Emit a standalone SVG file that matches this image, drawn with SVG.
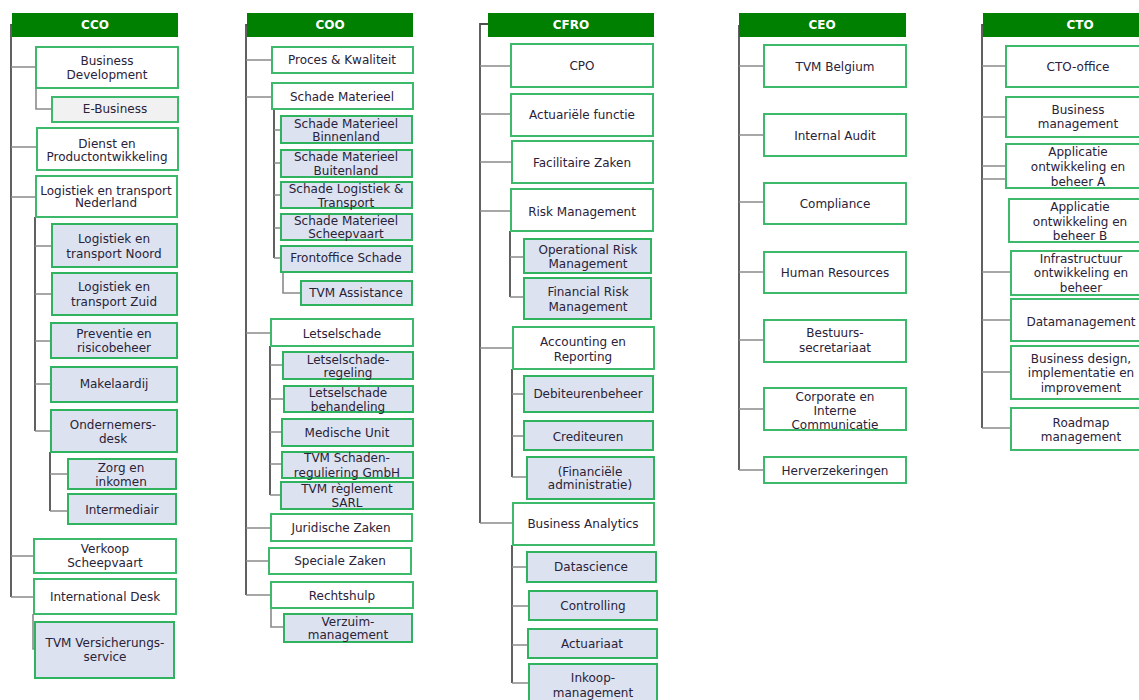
<svg xmlns="http://www.w3.org/2000/svg" width="1139" height="700" viewBox="0 0 1139 700">
<style>
.bg{fill:#ffffff}
.hd{fill:#008000}
.ht{fill:#ffffff;font-family:"DejaVu Sans",Verdana,sans-serif;font-size:12px;font-weight:bold;text-anchor:middle}
.w{fill:#ffffff;stroke:#3cb96a;stroke-width:2}
.u{fill:#dce2f0;stroke:#2fb35e;stroke-width:2}
.g{fill:#f1f1f1;stroke:#3cb96a;stroke-width:2}
.t{fill:#2a2238;font-family:"DejaVu Sans",Verdana,sans-serif;font-size:12px;text-anchor:middle}
.v{fill:none;stroke:#505050;stroke-width:1.8}
.h{fill:none;stroke:#8a8a8a;stroke-width:1.6}
</style>
<rect class="bg" x="0" y="0" width="1139" height="700"/>

<g id="connectors">
<!-- CCO -->
<path class="v" d="M12,25 H11 V597"/>
<path class="h" d="M11,67 H36 M11,147 H37 M11,197 H36 M11,556 H34 M11,597 H34"/>
<path class="h" d="M36,88 V109 H52"/>
<path class="v" d="M35,217 V431"/>
<path class="h" d="M35,246 H52 M35,294 H52 M35,341 H51 M35,384 H51 M35,431 H51"/>
<path class="v" d="M50,452 V511"/>
<path class="h" d="M50,474 H68 M50,511 H68"/>
<path class="h" d="M33,614 V649 H35"/>
<!-- COO -->
<path class="v" d="M247,25 H246 V595"/>
<path class="h" d="M246,60 H272 M246,97 H272 M246,333 H271 M246,528 H271 M246,561 H269 M246,595 H271"/>
<path class="v" d="M274,109 V258"/>
<path class="h" d="M274,130 H281 M274,163 H281 M274,195 H281 M274,228 H281 M274,258 H281"/>
<path class="h" d="M283,272 V293 H301"/>
<path class="v" d="M270,346 V495"/>
<path class="h" d="M270,365 H283 M270,399 H284 M270,432 H282 M270,464 H282 M270,495 H281"/>
<path class="h" d="M271,608 V627 H284"/>
<!-- CFRO -->
<path class="v" d="M488,24 H480 V523"/>
<path class="h" d="M480,66 H511 M480,114 H511 M480,162 H512 M480,211 H511 M480,348 H513 M480,523 H513"/>
<path class="v" d="M510,231 V297"/>
<path class="h" d="M510,257 H524 M510,297 H524"/>
<path class="v" d="M512,369 V477"/>
<path class="h" d="M512,394 H524 M512,436 H524 M512,477 H527"/>
<path class="v" d="M512,545 V683"/>
<path class="h" d="M512,567 H527 M512,606 H529 M512,645 H528 M512,683 H529"/>
<!-- CEO -->
<path class="v" d="M739,25 V470"/>
<path class="h" d="M739,66 H764 M739,135 H764 M739,202 H764 M739,272 H764 M739,340 H764 M739,409 H764 M739,470 H764"/>
<!-- CTO -->
<path class="v" d="M983,25 H982 V428"/>
<path class="h" d="M982,66 H1006 M982,117 H1006 M982,166 H1006 M982,179 H1006 M982,272 H1011 M982,320 H1011 M982,372 H1011 M982,428 H1011"/>
</g>

<!-- CCO column -->
<g id="cco"><rect class="hd" x="12" y="13" width="166" height="24"/><text class="ht" x="95" y="29">CCO</text></g>
<g id="business-development"><rect class="w" x="36" y="47" width="142" height="41"/><text class="t"><tspan x="107" y="65">Business</tspan><tspan x="107" y="79">Development</tspan></text></g>
<g id="e-business"><rect class="g" x="52" y="97" width="126" height="25"/><text class="t" x="115" y="113">E-Business</text></g>
<g id="dienst"><rect class="w" x="37" y="128" width="141" height="42"/><text class="t"><tspan x="107" y="148">Dienst en</tspan><tspan x="107" y="161">Productontwikkeling</tspan></text></g>
<g id="log-ned"><rect class="w" x="36" y="176" width="141" height="41"/><text class="t"><tspan x="106" y="195">Logistiek en transport</tspan><tspan x="106" y="207">Nederland</tspan></text></g>
<g id="log-noord"><rect class="u" x="52" y="224" width="125" height="43"/><text class="t"><tspan x="114" y="243">Logistiek en</tspan><tspan x="114" y="258">transport Noord</tspan></text></g>
<g id="log-zuid"><rect class="u" x="52" y="273" width="125" height="42"/><text class="t"><tspan x="114" y="291">Logistiek en</tspan><tspan x="114" y="306">transport Zuid</tspan></text></g>
<g id="preventie"><rect class="u" x="51" y="323" width="126" height="35"/><text class="t"><tspan x="114" y="338">Preventie en</tspan><tspan x="114" y="352">risicobeheer</tspan></text></g>
<g id="makelaardij"><rect class="u" x="51" y="367" width="126" height="35"/><text class="t" x="114" y="388">Makelaardij</text></g>
<g id="ondernemersdesk"><rect class="u" x="51" y="410" width="126" height="42"/><text class="t"><tspan x="113" y="429">Ondernemers-</tspan><tspan x="113" y="443">desk</tspan></text></g>
<g id="zorg"><rect class="u" x="68" y="459" width="108" height="30"/><text class="t"><tspan x="121" y="472">Zorg en</tspan><tspan x="121" y="486">inkomen</tspan></text></g>
<g id="intermediair"><rect class="u" x="68" y="494" width="108" height="30"/><text class="t" x="122" y="514">Intermediair</text></g>
<g id="verkoop"><rect class="w" x="34" y="539" width="142" height="34"/><text class="t"><tspan x="105" y="553">Verkoop</tspan><tspan x="105" y="567">Scheepvaart</tspan></text></g>
<g id="international-desk"><rect class="w" x="34" y="579" width="142" height="35"/><text class="t" x="105" y="601">International Desk</text></g>
<g id="tvm-vs"><rect class="u" x="35" y="622" width="139" height="56"/><text class="t"><tspan x="105" y="647">TVM Versicherungs-</tspan><tspan x="105" y="661">service</tspan></text></g>

<!-- COO column -->
<g id="coo"><rect class="hd" x="247" y="13" width="166" height="24"/><text class="ht" x="330" y="29">COO</text></g>
<g id="proces"><rect class="w" x="272" y="47" width="141" height="26"/><text class="t" x="342" y="64">Proces &amp; Kwaliteit</text></g>
<g id="schade-materieel"><rect class="w" x="272" y="83" width="141" height="26"/><text class="t" x="342" y="101">Schade Materieel</text></g>
<g id="sm-binnenland"><rect class="u" x="281" y="116" width="131" height="27"/><text class="t"><tspan x="346" y="128">Schade Materieel</tspan><tspan x="346" y="141">Binnenland</tspan></text></g>
<g id="sm-buitenland"><rect class="u" x="281" y="150" width="131" height="27"/><text class="t"><tspan x="346" y="161">Schade Materieel</tspan><tspan x="346" y="175">Buitenland</tspan></text></g>
<g id="schade-log"><rect class="u" x="281" y="182" width="131" height="26"/><text class="t"><tspan x="346" y="193">Schade Logistiek &amp;</tspan><tspan x="346" y="207">Transport</tspan></text></g>
<g id="sm-scheepvaart"><rect class="u" x="281" y="214" width="131" height="26"/><text class="t"><tspan x="346" y="225">Schade Materieel</tspan><tspan x="346" y="238">Scheepvaart</tspan></text></g>
<g id="frontoffice"><rect class="u" x="281" y="246" width="131" height="26"/><text class="t" x="346" y="262">Frontoffice Schade</text></g>
<g id="tvm-assistance"><rect class="u" x="301" y="281" width="111" height="24"/><text class="t" x="356" y="297">TVM Assistance</text></g>
<g id="letselschade"><rect class="w" x="271" y="319" width="142" height="27"/><text class="t" x="342" y="338">Letselschade</text></g>
<g id="ls-regeling"><rect class="u" x="283" y="352" width="130" height="27"/><text class="t"><tspan x="348" y="364">Letselschade-</tspan><tspan x="348" y="377">regeling</tspan></text></g>
<g id="ls-behandeling"><rect class="u" x="284" y="386" width="129" height="26"/><text class="t"><tspan x="348" y="397">Letselschade</tspan><tspan x="348" y="411">behandeling</tspan></text></g>
<g id="medische-unit"><rect class="u" x="282" y="419" width="131" height="27"/><text class="t" x="347" y="437">Medische Unit</text></g>
<g id="tvm-schaden"><rect class="u" x="282" y="452" width="131" height="26"/><text class="t"><tspan x="347" y="462">TVM Schaden-</tspan><tspan x="347" y="477">reguliering GmbH</tspan></text></g>
<g id="tvm-reglement"><rect class="u" x="281" y="482" width="132" height="27"/><text class="t"><tspan x="347" y="493">TVM règlement</tspan><tspan x="347" y="507">SARL</tspan></text></g>
<g id="juridische"><rect class="w" x="271" y="514" width="141" height="27"/><text class="t" x="341" y="532">Juridische Zaken</text></g>
<g id="speciale"><rect class="w" x="269" y="548" width="142" height="26"/><text class="t" x="340" y="565">Speciale Zaken</text></g>
<g id="rechtshulp"><rect class="w" x="271" y="582" width="142" height="26"/><text class="t" x="342" y="600">Rechtshulp</text></g>
<g id="verzuim"><rect class="u" x="284" y="614" width="128" height="28"/><text class="t"><tspan x="348" y="626">Verzuim-</tspan><tspan x="348" y="639">management</tspan></text></g>

<!-- CFRO column -->
<g id="cfro"><rect class="hd" x="488" y="13" width="166" height="24"/><text class="ht" x="571" y="29">CFRO</text></g>
<g id="cpo"><rect class="w" x="511" y="44" width="142" height="43"/><text class="t" x="582" y="70">CPO</text></g>
<g id="actuariele"><rect class="w" x="511" y="94" width="142" height="42"/><text class="t" x="582" y="119">Actuariële functie</text></g>
<g id="facilitaire"><rect class="w" x="512" y="141" width="141" height="42"/><text class="t" x="582" y="167">Facilitaire Zaken</text></g>
<g id="risk"><rect class="w" x="511" y="189" width="142" height="42"/><text class="t" x="582" y="216">Risk Management</text></g>
<g id="op-risk"><rect class="u" x="524" y="239" width="127" height="34"/><text class="t"><tspan x="588" y="254">Operational Risk</tspan><tspan x="588" y="268">Management</tspan></text></g>
<g id="fin-risk"><rect class="u" x="524" y="278" width="127" height="41"/><text class="t"><tspan x="588" y="296">Financial Risk</tspan><tspan x="588" y="311">Management</tspan></text></g>
<g id="accounting"><rect class="w" x="513" y="327" width="141" height="42"/><text class="t"><tspan x="583" y="346">Accounting en</tspan><tspan x="583" y="361">Reporting</tspan></text></g>
<g id="debiteuren"><rect class="u" x="524" y="376" width="129" height="36"/><text class="t" x="588" y="398">Debiteurenbeheer</text></g>
<g id="crediteuren"><rect class="u" x="524" y="421" width="129" height="29"/><text class="t" x="588" y="441">Crediteuren</text></g>
<g id="fin-admin"><rect class="u" x="527" y="457" width="127" height="42"/><text class="t"><tspan x="590" y="476">(Financiële</tspan><tspan x="590" y="489">administratie)</tspan></text></g>
<g id="business-analytics"><rect class="w" x="513" y="503" width="141" height="42"/><text class="t" x="583" y="528">Business Analytics</text></g>
<g id="datascience"><rect class="u" x="527" y="552" width="129" height="30"/><text class="t" x="591" y="571">Datascience</text></g>
<g id="controlling"><rect class="u" x="529" y="591" width="128" height="29"/><text class="t" x="593" y="610">Controlling</text></g>
<g id="actuariaat"><rect class="u" x="528" y="629" width="129" height="29"/><text class="t" x="592" y="648">Actuariaat</text></g>
<g id="inkoop"><rect class="u" x="529" y="664" width="128" height="44"/><text class="t"><tspan x="593" y="682">Inkoop-</tspan><tspan x="593" y="697">management</tspan></text></g>

<!-- CEO column -->
<g id="ceo"><rect class="hd" x="739" y="13" width="167" height="24"/><text class="ht" x="822" y="29">CEO</text></g>
<g id="tvm-belgium"><rect class="w" x="764" y="45" width="142" height="42"/><text class="t" x="835" y="71">TVM Belgium</text></g>
<g id="internal-audit"><rect class="w" x="764" y="114" width="142" height="42"/><text class="t" x="835" y="140">Internal Audit</text></g>
<g id="compliance"><rect class="w" x="764" y="183" width="142" height="41"/><text class="t" x="835" y="208">Compliance</text></g>
<g id="hr"><rect class="w" x="764" y="252" width="142" height="41"/><text class="t" x="835" y="277">Human Resources</text></g>
<g id="bestuurs"><rect class="w" x="764" y="320" width="142" height="42"/><text class="t"><tspan x="835" y="337">Bestuurs-</tspan><tspan x="835" y="352">secretariaat</tspan></text></g>
<g id="corporate"><rect class="w" x="764" y="388" width="142" height="42"/><text class="t"><tspan x="835" y="401">Corporate en</tspan><tspan x="835" y="415">Interne</tspan><tspan x="835" y="429">Communicatie</tspan></text></g>
<g id="herverzekeringen"><rect class="w" x="764" y="457" width="142" height="26"/><text class="t" x="835" y="475">Herverzekeringen</text></g>

<!-- CTO column -->
<g id="cto"><rect class="hd" x="983" y="13" width="170" height="24"/><text class="ht" x="1080" y="29">CTO</text></g>
<g id="cto-office"><rect class="w" x="1006" y="46" width="150" height="41"/><text class="t" x="1078" y="71">CTO-office</text></g>
<g id="business-management"><rect class="w" x="1006" y="97" width="150" height="40"/><text class="t"><tspan x="1078" y="114">Business</tspan><tspan x="1078" y="128">management</tspan></text></g>
<g id="app-a"><rect class="w" x="1006" y="144" width="150" height="44"/><text class="t"><tspan x="1078" y="156">Applicatie</tspan><tspan x="1078" y="171">ontwikkeling en</tspan><tspan x="1078" y="186">beheer A</tspan></text></g>
<g id="app-b"><rect class="w" x="1009" y="199" width="150" height="43"/><text class="t"><tspan x="1080" y="211">Applicatie</tspan><tspan x="1080" y="226">ontwikkeling en</tspan><tspan x="1080" y="240">beheer B</tspan></text></g>
<g id="infra"><rect class="w" x="1011" y="251" width="150" height="44"/><text class="t"><tspan x="1081" y="263">Infrastructuur</tspan><tspan x="1081" y="277">ontwikkeling en</tspan><tspan x="1081" y="292">beheer</tspan></text></g>
<g id="datamanagement"><rect class="w" x="1011" y="299" width="150" height="42"/><text class="t" x="1081" y="326">Datamanagement</text></g>
<g id="business-design"><rect class="w" x="1011" y="346" width="150" height="53"/><text class="t"><tspan x="1081" y="363">Business design,</tspan><tspan x="1081" y="377">implementatie en</tspan><tspan x="1081" y="392">improvement</tspan></text></g>
<g id="roadmap"><rect class="w" x="1011" y="408" width="150" height="42"/><text class="t"><tspan x="1081" y="427">Roadmap</tspan><tspan x="1081" y="441">management</tspan></text></g>
</svg>
